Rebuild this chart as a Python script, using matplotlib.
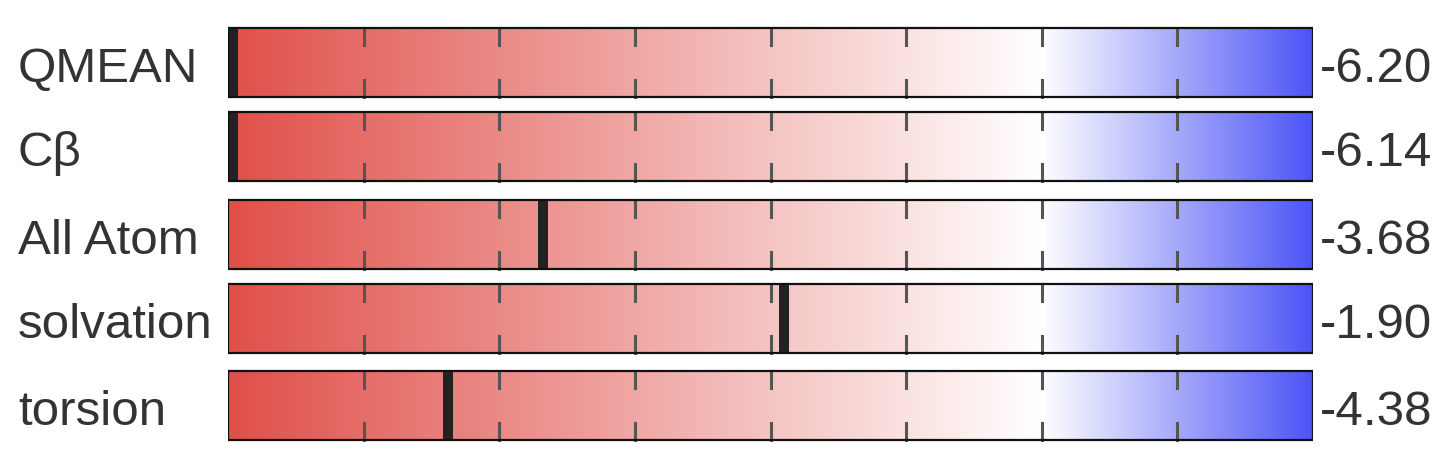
import numpy as np
import matplotlib.pyplot as plt
from matplotlib.colors import LinearSegmentedColormap

labels = ["QMEAN", "Cβ", "All Atom", "solvation", "torsion"]
values = [-6.20, -6.14, -3.68, -1.90, -4.38]
xmin, xmax = -6, 2
ticks = [-5, -4, -3, -2, -1, 0, 1]

W, H = 1454, 458
fig = plt.figure(figsize=(W / 100, H / 100), dpi=100)
plt.rcParams['font.family'] = ['Liberation Sans', 'DejaVu Sans']

# axes in data units along x, pixel rows along y
ax = fig.add_axes([228 / W, 0, (1313 - 228) / W, 1])
ax.set_xlim(xmin, xmax)
ax.set_ylim(H, 0)
ax.axis('off')

cmap = LinearSegmentedColormap.from_list(
    "qm", [(0, "#e0504a"), (0.75, "#ffffff"), (1, "#4d55f6")])
grad = np.linspace(0, 1, 512).reshape(1, -1)

tops = [28, 112, 200, 284, 371]
bh = 69
unit_px = (1313 - 228) / (xmax - xmin)
mw = 10 / unit_px

for lab, v, top in zip(labels, values, tops):
    bot = top + bh
    ax.imshow(grad, cmap=cmap, aspect='auto', extent=(xmin, xmax, bot, top),
              interpolation='bilinear', zorder=1)
    for t in ticks:
        ax.plot([t, t], [top, top + 17], color='#555555', lw=2.2, zorder=2)
        ax.plot([t, t], [bot - 17, bot], color='#555555', lw=2.2, zorder=2)
    c = min(max(v, xmin + mw / 2), xmax - mw / 2)
    ax.fill_between([c - mw / 2, c + mw / 2], top, bot, color='#222222',
                    lw=0, zorder=3)
    ax.plot([xmin, xmax, xmax, xmin, xmin], [top, top, bot, bot, top],
            color='#111111', lw=1.6, zorder=4, solid_joinstyle='miter')
    yc = (top + bot) / 2 + 7
    fig.text(18 / W, 1 - yc / H, lab, fontsize=35.5, color='#333333',
             ha='left', va='center')
    fig.text(1320 / W, 1 - yc / H, f"{v:.2f}", fontsize=35.5, color='#333333',
             ha='left', va='center')

ax.set_xlim(xmin, xmax)
ax.set_ylim(H, 0)
fig.savefig("out.png", dpi=100)
